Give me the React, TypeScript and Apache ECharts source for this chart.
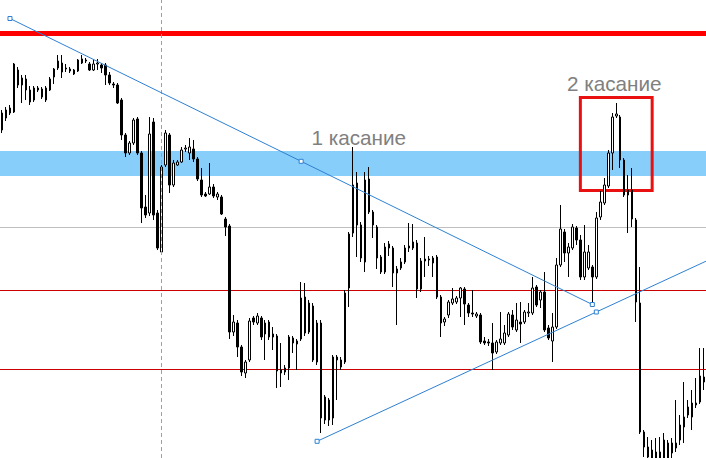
import React, { useEffect, useRef } from "react";
import * as echarts from "echarts";

// Bars (one per candle, left to right)
const categories: string[] = Array.from({ length: 177 }, (_, i) => String(i + 1));

const openP: number[] = [
  370, 382, 387, 388, 430, 415, 421, 410, 400, 410,
  411, 400, 410, 423, 432, 437, 432, 431, 430, 429,
  441, 440, 436, 430, 436, 435, 435, 425, 416, 415,
  400, 365, 347, 357, 381, 347, 293, 287, 378, 287,
  248, 335, 365, 315, 335, 338, 351, 347, 351, 341,
  320, 306, 306, 313, 303, 303, 281, 274, 168, 177,
  153, 127, 140, 182, 177, 182, 166, 178, 163, 164,
  130, 128, 132, 162, 156, 161, 203, 168, 194, 138,
  177, 80, 100, 82, 140, 140, 138, 212, 267, 317,
  275, 238, 321, 288, 273, 243, 228, 252, 252, 227,
  232, 238, 252, 252, 257, 211, 239, 240, 237, 243,
  203, 178, 185, 197, 198, 202, 211, 195, 187, 184,
  185, 159, 158, 157, 148, 157, 157, 165, 185, 170,
  178, 178, 187, 187, 213, 200, 208, 172, 159, 173,
  235, 268, 247, 252, 272, 260, 223, 232, 233, 223,
  283, 297, 314, 347, 384, 383, 340, 305, 310, 280,
  197, 68, 53, 50, 42, 48, 42, 57, 47, 52,
  60, 73, 85, 83, 95, 98, 123,
];

const closeP: number[] = [
  387, 390, 392, 436, 415, 422, 410, 398, 412, 412,
  403, 412, 421, 431, 439, 428, 431, 429, 426, 440,
  437, 439, 430, 436, 437, 432, 425, 417, 415, 397,
  365, 347, 357, 380, 347, 292, 285, 366, 285, 252,
  333, 367, 315, 337, 338, 350, 352, 353, 341, 321,
  305, 304, 313, 304, 306, 286, 273, 168, 178, 153,
  128, 138, 179, 178, 184, 163, 177, 163, 166, 129,
  127, 132, 163, 157, 159, 202, 167, 197, 140, 177,
  82, 103, 80, 143, 143, 133, 207, 266, 315, 275,
  242, 320, 288, 275, 242, 228, 253, 256, 227, 231,
  238, 252, 254, 258, 211, 239, 241, 241, 242, 203,
  177, 181, 198, 201, 202, 212, 196, 187, 186, 186,
  158, 157, 157, 147, 158, 161, 167, 186, 173, 180,
  176, 188, 188, 212, 195, 208, 170, 162, 173, 235,
  271, 247, 253, 273, 260, 223, 248, 248, 223, 282,
  298, 315, 347, 383, 386, 340, 305, 310, 281, 198,
  68, 53, 43, 40, 48, 42, 60, 42, 57, 57,
  75, 83, 93, 97, 97, 124, 118,
];

const lowP: number[] = [
  367, 379, 385, 387, 412, 397, 400, 395, 398, 408,
  401, 398, 409, 416, 430, 422, 428, 427, 425, 428,
  436, 437, 429, 429, 430, 427, 415, 415, 412, 396,
  360, 343, 345, 355, 345, 277, 282, 284, 280, 250,
  247, 333, 307, 313, 334, 337, 348, 340, 338, 319,
  303, 303, 305, 302, 300, 285, 264, 161, 164, 143,
  124, 122, 138, 175, 175, 160, 140, 160, 150, 112,
  113, 125, 120, 147, 130, 159, 164, 166, 138, 135,
  67, 76, 74, 75, 100, 130, 136, 193, 263, 243,
  238, 228, 286, 262, 231, 226, 226, 244, 213, 175,
  230, 236, 248, 250, 202, 208, 223, 234, 223, 201,
  163, 174, 182, 195, 196, 183, 175, 183, 183, 182,
  156, 155, 154, 130, 146, 155, 155, 163, 170, 168,
  157, 176, 183, 185, 193, 192, 168, 160, 138, 171,
  233, 238, 223, 250, 255, 220, 220, 230, 196, 221,
  280, 295, 312, 330, 382, 332, 303, 267, 273, 178,
  66, 43, 40, 38, 38, 38, 38, 38, 42, 48,
  55, 57, 82, 70, 92, 96, 110,
];

const highP: number[] = [
  390, 393, 395, 437, 433, 425, 425, 414, 414, 414,
  413, 414, 423, 432, 445, 445, 436, 433, 431, 441,
  445, 442, 438, 441, 441, 437, 437, 428, 418, 417,
  402, 367, 359, 382, 383, 349, 305, 383, 382, 290,
  335, 370, 367, 340, 340, 353, 355, 362, 360, 343,
  332, 308, 337, 316, 308, 305, 283, 276, 185, 180,
  155, 140, 182, 184, 187, 184, 180, 180, 173, 166,
  157, 135, 165, 164, 161, 218, 217, 200, 197, 180,
  180, 105, 102, 145, 145, 143, 210, 268, 353, 328,
  278, 328, 333, 290, 275, 245, 257, 259, 254, 234,
  242, 255, 277, 276, 260, 242, 263, 244, 244, 245,
  205, 183, 200, 212, 204, 213, 213, 197, 210, 188,
  187, 163, 161, 177, 160, 188, 175, 188, 190, 197,
  198, 190, 197, 223, 215, 210, 228, 175, 187, 242,
  295, 271, 257, 276, 274, 265, 275, 255, 235, 288,
  309, 322, 350, 387, 397, 385, 342, 325, 332, 282,
  233, 70, 63, 60, 62, 63, 67, 60, 62, 100,
  85, 118, 100, 110, 122, 152, 152,
];

// Horizontal levels (price)
const thickResistance = 466.5;
const zoneTop = 349;
const zoneBottom = 324;
const grayLevel = 272.5;
const redLevels: number[] = [209.5, 130.5];
const separatorBar = 40;

// Trend lines: [bar index, price]
const trendDown: number[][] = [
  [2, 481.5],
  [75, 338.7],
  [148, 195.5],
];
const trendUp: number[][] = [
  [79, 58.7],
  [149, 188],
  [176.5, 238.8],
];

// Red box: [bar, price] corners
const boxCorners: number[][] = [
  [145, 402.5],
  [163, 309.5],
];

const labels = [
  { text: "1 касание", x: 311.5, y: 127 },
  { text: "2 касание", x: 567, y: 73 },
];

// A horizontal level drawn as a thin filled band of the given pixel thickness
function levelBand(name: string, value: number, color: string, width: number, z: number) {
  return {
    name,
    type: "line",
    xAxisIndex: 1,
    data: [],
    z,
    silent: true,
    markArea: {
      silent: true,
      itemStyle: { color, borderWidth: 0 },
      emphasis: { disabled: true },
      data: [[{ yAxis: value + width / 2 }, { yAxis: value - width / 2 }]],
    },
  };
}

export default function App() {
  const ref = useRef<HTMLDivElement>(null);

  useEffect(() => {
    if (!ref.current) return;
    const chart = echarts.init(ref.current, undefined, { renderer: "svg" });
    const candleData = openP.map((o, i) => [o, closeP[i], lowP[i], highP[i]]);
    const trendColor = "#2d80d2";

    chart.setOption({
      animation: false,
      backgroundColor: "#ffffff",
      grid: { left: -1.5, top: 0, width: 708, height: 458, containLabel: false },
      xAxis: [
        { type: "category", data: categories, boundaryGap: true, show: false },
        { type: "value", min: -0.5, max: 176.5, show: false },
      ],
      yAxis: { type: "value", min: 42, max: 500, show: false },
      series: [
        {
          name: "zone",
          type: "line",
          xAxisIndex: 1,
          data: [],
          z: 1,
          silent: true,
          markArea: {
            silent: true,
            itemStyle: { color: "#87CEFA" },
            data: [[{ yAxis: zoneTop }, { yAxis: zoneBottom }]],
          },
        },
        {
          name: "separator",
          type: "line",
          data: [],
          z: 2,
          silent: true,
          markLine: {
            silent: true,
            symbol: ["none", "none"],
            label: { show: false },
            lineStyle: { color: "#a0a0a0", width: 1, type: [4, 3] },
            data: [{ xAxis: separatorBar }],
          },
        },
        {
          name: "price",
          type: "candlestick",
          data: candleData,
          barWidth: 2,
          z: 3,
          itemStyle: {
            color: "#ffffff",
            color0: "#000000",
            borderColor: "#000000",
            borderColor0: "#000000",
            borderColorDoji: "#000000",
            borderWidth: 1,
          },
        },
        levelBand("gray", grayLevel, "#c0c0c0", 1, 4),
        levelBand("red1", redLevels[0], "#cc0000", 1, 4),
        levelBand("red2", redLevels[1], "#cc0000", 1, 4),
        levelBand("resistance", thickResistance, "#ff0000", 5, 4),
        {
          name: "box",
          type: "line",
          xAxisIndex: 1,
          data: [],
          z: 4,
          silent: true,
          markArea: {
            silent: true,
            itemStyle: { color: "rgba(0,0,0,0)", borderColor: "#e81010", borderWidth: 3 },
            data: [[{ coord: boxCorners[0] }, { coord: boxCorners[1] }]],
          },
        },
        {
          name: "trendDown",
          type: "line",
          xAxisIndex: 1,
          data: trendDown,
          z: 5,
          silent: true,
          symbol: "rect",
          symbolSize: 4,
          showAllSymbol: true,
          lineStyle: { color: trendColor, width: 1 },
          itemStyle: { color: "#ffffff", borderColor: trendColor, borderWidth: 1 },
        },
        {
          name: "trendUp",
          type: "line",
          xAxisIndex: 1,
          data: trendUp.map((p, i) =>
            i < 2 ? { value: p } : { value: p, symbol: "none" }
          ),
          z: 5,
          silent: true,
          symbol: "rect",
          symbolSize: 4,
          showAllSymbol: true,
          lineStyle: { color: trendColor, width: 1 },
          itemStyle: { color: "#ffffff", borderColor: trendColor, borderWidth: 1 },
        },
      ],
      graphic: labels.map((l) => ({
        type: "text",
        left: l.x,
        top: l.y,
        z: 10,
        silent: true,
        style: {
          text: l.text,
          font: '20.7px "Liberation Sans", Arial, sans-serif',
          fill: "#808080",
        },
      })),
    });

    return () => chart.dispose();
  }, []);

  return (
    <div
      ref={ref}
      style={{ position: "absolute", left: 0, top: 0, width: 706, height: 458, background: "#fff" }}
    />
  );
}
